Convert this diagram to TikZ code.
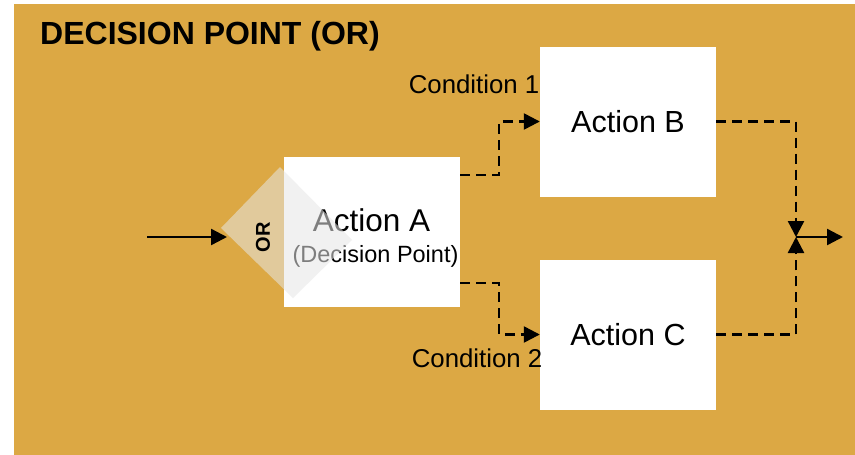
\documentclass[tikz,border=0pt]{standalone}
\usepackage{fontspec}
\setmainfont{Liberation Sans}
\usetikzlibrary{arrows.meta,calc}
\definecolor{bgorange}{RGB}{220,168,68}
\definecolor{ovl}{RGB}{230,230,230}
\begin{document}
\begin{tikzpicture}[x=1pt,y=-1pt,
  box/.style={fill=white,draw=none,minimum width=176pt,minimum height=150pt,inner sep=0pt},
  lbl/.style={inner sep=0pt,anchor=base},
  flow/.style={line width=2.4pt,-{Triangle[length=16pt,width=16pt]}},
  dflow/.style={flow,dash pattern=on 10pt off 6pt}]
\useasboundingbox (0,0) rectangle (855,455);
\fill[bgorange] (14,4) rectangle (855,455);
\node[lbl,anchor=base west,font=\fontsize{32}{36}\selectfont\bfseries] (title) at (40,44) {DECISION POINT (OR)};
\node[box] (A) at (372,232) {};
\node[box] (B) at (628,121.5) {};
\node[box] (C) at (628,334.5) {};
\node[lbl,font=\fontsize{31.5}{36}\selectfont] (tA) at (371.5,231) {Action A};
\node[lbl,font=\fontsize{23.5}{27}\selectfont] (tA2) at (375.5,262) {(Decision Point)};
\node[lbl,font=\fontsize{30.5}{36}\selectfont] (tB) at (628,132) {Action B};
\node[lbl,font=\fontsize{30.5}{36}\selectfont] (tC) at (628,345) {Action C};
\node[lbl,anchor=base east,font=\fontsize{25.8}{30}\selectfont] (c1) at (539.5,93) {Condition 1};
\node[lbl,anchor=base east,font=\fontsize{25.8}{30}\selectfont] (c2) at (542.5,367) {Condition 2};
% diamond overlay
\fill[ovl,fill opacity=0.55] (221,228) -- (280,167) -- (352,240) -- (293,298) -- cycle;
\node[inner sep=0pt,rotate=90,font=\fontsize{20}{24}\selectfont\bfseries] (or) at (263,237) {OR};
% connectors
\coordinate (in) at (147,237);
\coordinate (inend) at (227,237);
\coordinate (join) at (796,237);
\coordinate (out) at (843,237);
\draw[flow] (in) -- (inend);
\draw[dflow] ($(A.north east)+(0,18)$) -- ++(39,0) |- (B.west);
\draw[dflow] ($(A.south east)+(0,-24)$) -- ++(39,0) |- (C.west);
\draw[dflow] (B.east) -| (join);
\draw[dflow] (C.east) -| (join);
\draw[flow] (join) -- (out);
\end{tikzpicture}
\end{document}
